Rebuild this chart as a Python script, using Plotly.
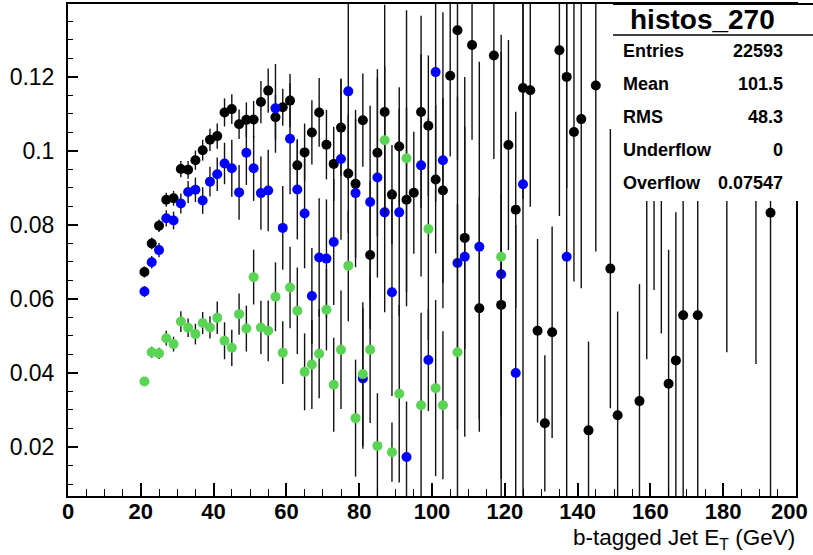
import plotly.graph_objects as go

# ---- bin centres (GeV) and contents for the three histograms ----
black_x = [21, 23, 25, 27, 29, 31, 33, 35, 37, 39, 41, 43, 45, 47, 49, 51, 53, 55, 57, 59,
           61, 63, 65, 67, 69, 71, 73, 75, 77, 79, 81, 83, 85, 87, 89, 91, 93, 95, 97, 99,
           101, 103, 105, 107, 109, 111, 113, 117, 119, 121, 123, 125, 127, 129, 131, 133,
           135, 137, 139, 141, 143, 145, 149, 151, 157, 159, 161, 163, 165, 167, 169, 173,
           181, 189, 193]
black_y = [0.0673, 0.0750, 0.0798, 0.0868, 0.0872, 0.0951, 0.0949, 0.0975, 0.1002, 0.1030,
           0.1040, 0.1104, 0.1113, 0.1072, 0.1084, 0.1085, 0.1132, 0.1163, 0.1091, 0.1118,
           0.1136, 0.0961, 0.0996, 0.1050, 0.1104, 0.1017, 0.0965, 0.1063, 0.0939, 0.0911,
           0.1083, 0.0719, 0.0995, 0.1105, 0.0882, 0.1012, 0.0868, 0.0887, 0.1105, 0.1068,
           0.0923, 0.0893, 0.1203, 0.1326, 0.0765, 0.1286, 0.0575, 0.1258, 0.0584, 0.1016,
           0.0841, 0.1170, 0.1164, 0.0514, 0.0264, 0.0510, 0.1272, 0.1200, 0.1051, 0.1086,
           0.0245, 0.1177, 0.0682, 0.0286, 0.0324, 0.1250, 0.1250, 0.1250, 0.0371, 0.0434,
           0.0556, 0.0556, 0.1250, 0.1250, 0.0833]
black_err = [0.0015, 0.0016, 0.0017, 0.0019, 0.0020, 0.0022, 0.0024, 0.0026, 0.0028, 0.0030,
             0.0034, 0.0038, 0.0040, 0.0040, 0.0047, 0.0050, 0.0057, 0.0060, 0.0060, 0.0050,
             0.0072, 0.0070, 0.0078, 0.0087, 0.0093, 0.0094, 0.0100, 0.0130, 0.0160, 0.0200,
             0.0126, 0.0200, 0.0226, 0.0290, 0.0134, 0.0160, 0.0250, 0.0165, 0.0260, 0.0190,
             0.0200, 0.0250, 0.0218, 0.0350, 0.0300, 0.0256, 0.0300, 0.0280, 0.0300, 0.0284,
             0.0265, 0.0300, 0.0315, 0.0248, 0.0184, 0.0286, 0.0448, 0.0300, 0.0404, 0.0457,
             0.0240, 0.0449, 0.0377, 0.0280, 0.0316, 0.0813, 0.0626, 0.0743, 0.0362, 0.0400,
             0.0500, 0.0500, 0.0794, 0.0826, 0.0800]

blue_x = [21, 23, 25, 27, 29, 31, 33, 35, 37, 39, 41, 43, 45, 47, 49, 51, 53, 55, 57, 59,
          61, 63, 65, 67, 69, 71, 73, 75, 77, 79, 81, 83, 85, 87, 89, 91, 93, 97, 99, 101,
          103, 107, 109, 113, 119, 123, 125, 137]
blue_y = [0.0620, 0.0699, 0.0732, 0.0818, 0.0812, 0.0858, 0.0889, 0.0895, 0.0866, 0.0917,
          0.0937, 0.0966, 0.0953, 0.0888, 0.0995, 0.0953, 0.0886, 0.0893, 0.1115, 0.0792,
          0.1033, 0.0896, 0.0831, 0.0608, 0.0712, 0.0709, 0.0754, 0.0978, 0.1161, 0.0886,
          0.0385, 0.0862, 0.0928, 0.0834, 0.0618, 0.0834, 0.0173, 0.0961, 0.0435, 0.1213,
          0.0975, 0.0697, 0.0714, 0.0741, 0.0667, 0.0400, 0.0910, 0.0714]
blue_err = [0.0015, 0.0017, 0.0019, 0.0022, 0.0024, 0.0027, 0.0030, 0.0033, 0.0036, 0.0040,
            0.0045, 0.0056, 0.0077, 0.0074, 0.0087, 0.0088, 0.0099, 0.0110, 0.0120, 0.0113,
            0.0150, 0.0135, 0.0148, 0.0130, 0.0160, 0.0160, 0.0170, 0.0218, 0.0240, 0.0200,
            0.0190, 0.0260, 0.0270, 0.0270, 0.0280, 0.0280, 0.0150, 0.0300, 0.0138, 0.0350,
            0.0400, 0.0450, 0.0486, 0.0500, 0.0600, 0.0400, 0.0900, 0.0700]

green_x = [21, 23, 25, 27, 29, 31, 33, 35, 37, 39, 41, 43, 45, 47, 49, 51, 53, 55, 57, 59,
           61, 63, 65, 67, 69, 71, 73, 75, 77, 79, 81, 83, 85, 87, 89, 91, 93, 97, 99, 101,
           103, 107, 119]
green_y = [0.0377, 0.0456, 0.0453, 0.0494, 0.0478, 0.0539, 0.0522, 0.0505, 0.0535, 0.0523,
           0.0549, 0.0487, 0.0468, 0.0559, 0.0520, 0.0659, 0.0523, 0.0514, 0.0606, 0.0455,
           0.0631, 0.0568, 0.0403, 0.0423, 0.0452, 0.0571, 0.0368, 0.0463, 0.0690, 0.0278,
           0.0397, 0.0463, 0.0203, 0.1029, 0.0186, 0.0344, 0.0980, 0.0313, 0.0789, 0.0359,
           0.0313, 0.0456, 0.0714]
green_err = [0.0010, 0.0015, 0.0015, 0.0020, 0.0020, 0.0028, 0.0025, 0.0028, 0.0030, 0.0030,
             0.0044, 0.0050, 0.0049, 0.0056, 0.0062, 0.0074, 0.0072, 0.0082, 0.0093, 0.0085,
             0.0110, 0.0117, 0.0104, 0.0120, 0.0120, 0.0110, 0.0127, 0.0160, 0.0150, 0.0158,
             0.0194, 0.0198, 0.0142, 0.0200, 0.0080, 0.0240, 0.0400, 0.0250, 0.0300, 0.0238,
             0.0200, 0.0400, 0.0600]

x_ticks = [0, 20, 40, 60, 80, 100, 120, 140, 160, 180, 200]
x_tick_text = ["0", "20", "40", "60", "80", "100", "120", "140", "160", "180", "200"]
y_ticks = [0.02, 0.04, 0.06, 0.08, 0.1, 0.12]
y_tick_text = ["0.02", "0.04", "0.06", "0.08", "0.1", "0.12"]

stats_title = "histos_270"
stats_names = ["Entries", "Mean", "RMS", "Underflow", "Overflow"]
stats_values = ["22593", "101.5", "48.3", "0", "0.07547"]

BLACK = "#000000"
BLUE = "#0000ff"
GREEN = "#59d454"
FONT = "Liberation Sans, Arial, sans-serif"
NARROW = "Liberation Sans Narrow, Arial Narrow, Liberation Sans, sans-serif"
XTICK_FONT = dict(family=NARROW, size=22, color="black", weight="bold")

fig = go.Figure()
for xs, ys, es, col in [(black_x, black_y, black_err, BLACK),
                        (blue_x, blue_y, blue_err, BLUE),
                        (green_x, green_y, green_err, GREEN)]:
    fig.add_trace(go.Scatter(
        x=xs, y=ys, mode="markers",
        marker=dict(color=col, size=10, line=dict(width=0)),
        error_y=dict(type="data", array=es, visible=True,
                     color="#111111", thickness=1.4, width=0),
        showlegend=False, hoverinfo="x+y"))

W, H = 813, 555
ML, MR, MT, MB = 68, 17, 4, 59
PW, PH = W - ML - MR, H - MT - MB


def px(xp):
    return (xp - ML) / PW


def py(yp):
    return (H - MB - yp) / PH


# statistics box (opaque, over the data)
shapes = [
    dict(type="rect", xref="paper", yref="paper", x0=px(613), x1=px(813),
         y0=py(201), y1=py(3), fillcolor="white", line=dict(width=0), layer="above"),
    dict(type="line", xref="paper", yref="paper", x0=px(613), x1=px(813),
         y0=py(4), y1=py(4), line=dict(color="black", width=2), layer="above"),
    dict(type="line", xref="paper", yref="paper", x0=px(613), x1=px(813),
         y0=py(35), y1=py(35), line=dict(color="black", width=1.5), layer="above"),
]

annotations = [dict(text=stats_title, x=px(702), y=py(20), xref="paper", yref="paper",
                    showarrow=False, xanchor="center", yanchor="middle",
                    font=dict(family=FONT, size=28, color="black", weight="bold"))]
row_y = [51, 84, 117, 150, 183]
for name, val, ry in zip(stats_names, stats_values, row_y):
    annotations.append(dict(text=name, x=px(621), y=py(ry), xref="paper", yref="paper",
                            showarrow=False, xanchor="left", yanchor="middle",
                            font=dict(family=FONT, size=18, color="black", weight="bold")))
    annotations.append(dict(text=val, x=px(785), y=py(ry), xref="paper", yref="paper",
                            showarrow=False, xanchor="right", yanchor="middle",
                            font=dict(family=FONT, size=18, color="black", weight="bold")))

# the last x label sits flush with the canvas edge
annotations.append(dict(text=x_tick_text[-1], x=x_ticks[-1], xref="x", y=py(511),
                        yref="paper", showarrow=False, xanchor="right", yanchor="middle",
                        xshift=14, font=XTICK_FONT))

annotations.append(dict(text="b-tagged Jet E<sub>T</sub> (GeV)", x=px(797), y=py(539),
                        xref="paper", yref="paper", showarrow=False,
                        xanchor="right", yanchor="middle",
                        font=dict(family=FONT, size=22.5, color="black")))

fig.update_layout(
    width=W, height=H,
    margin=dict(l=ML, r=MR, t=MT, b=MB, autoexpand=False),
    paper_bgcolor="white", plot_bgcolor="white",
    shapes=shapes, annotations=annotations,
    xaxis=dict(range=[0, 200], showgrid=False, zeroline=False, automargin=False,
               showline=True, mirror=True, linecolor="black", linewidth=2,
               ticks="inside", ticklen=13, tickwidth=1.5, tickcolor="black",
               tickvals=x_ticks, ticktext=x_tick_text[:-1] + [""],
               ticklabelstandoff=-5, tickfont=XTICK_FONT,
               minor=dict(dtick=5, tick0=0, ticks="inside", ticklen=7, tickwidth=1,
                          tickcolor="black")),
    yaxis=dict(range=[0.00676, 0.1397], showgrid=False, zeroline=False, automargin=False,
               showline=True, mirror=True, linecolor="black", linewidth=2,
               ticks="inside", ticklen=10, tickwidth=1.5, tickcolor="black",
               tickvals=y_ticks, ticktext=y_tick_text, ticklabelstandoff=7,
               tickfont=dict(family=FONT, size=23, color="black"),
               minor=dict(dtick=0.005, tick0=0, ticks="inside", ticklen=5,
                          tickwidth=1, tickcolor="black")),
)

fig.write_html("out.html")
